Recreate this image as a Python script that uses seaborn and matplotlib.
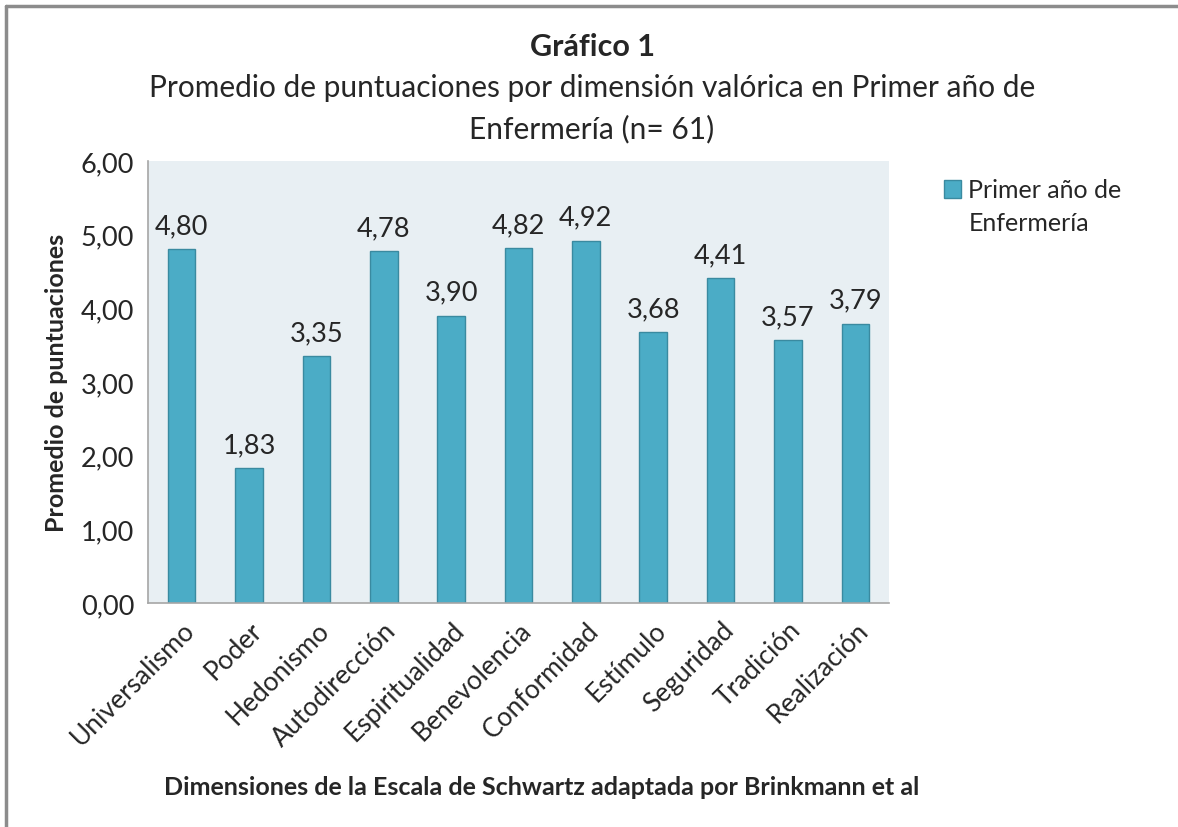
import matplotlib.pyplot as plt
import seaborn as sns
import pandas as pd
from matplotlib.lines import Line2D
from matplotlib.patches import Patch, Rectangle
from matplotlib.legend_handler import HandlerPatch

# Data
dimensiones = ['Universalismo', 'Poder', 'Hedonismo', 'Autodirección', 'Espiritualidad',
               'Benevolencia', 'Conformidad', 'Estímulo', 'Seguridad', 'Tradición', 'Realización']
promedios = [4.80, 1.83, 3.35, 4.78, 3.90, 4.82, 4.92, 3.68, 4.41, 3.57, 3.79]
serie = 'Primer año de\nEnfermería'

df = pd.DataFrame({'dimension': dimensiones, 'promedio': promedios})

sns.set_style("white")
plt.rcParams['font.family'] = ['Lato', 'DejaVu Sans']

bar_color = '#4BACC6'
fig = plt.figure(figsize=(11.78, 8.28), dpi=100)
ax = fig.add_axes([148 / 1178, 1 - 604 / 828, (889 - 148) / 1178, (604 - 162) / 828])

sns.barplot(ax=ax, data=df, x='dimension', y='promedio', color=bar_color,
            width=0.41, edgecolor='#3A8AA0', linewidth=1, saturation=1)

ax.set_facecolor('#E8EFF3')
ax.set_ylim(0, 6)
ax.set_yticks([0, 1, 2, 3, 4, 5, 6])
ax.set_yticklabels([f'{v:.2f}'.replace('.', ',') for v in range(7)], fontsize=19.5, color='#262626')
ax.set_xticks(range(len(dimensiones)))
ax.set_xticklabels(dimensiones, rotation=45, ha='right', rotation_mode='anchor', fontsize=19, color='#262626')
ax.tick_params(axis='y', length=7, width=1, color='#A6A6A6', pad=3)
ax.tick_params(axis='x', length=0, pad=10)

for s in ['top', 'right']:
    ax.spines[s].set_visible(False)
for s in ['left', 'bottom']:
    ax.spines[s].set_color('#A6A6A6')
    ax.spines[s].set_linewidth(1.2)

# value labels
for i, v in enumerate(promedios):
    ax.text(i, v + 0.15, f'{v:.2f}'.replace('.', ','), ha='center', va='bottom', fontsize=19.5, color='#262626')

ax.set_ylabel('Promedio de puntuaciones', fontsize=18, fontweight='bold')
ax.yaxis.set_label_coords(-80 / 741, 0.5)
ax.set_xlabel('Dimensiones de la Escala de Schwartz adaptada por Brinkmann et al',
              fontsize=18, fontweight='bold')
ax.xaxis.set_label_coords((542 - 148) / 741, -(776 - 604) / 442)

# titles
fig.text(592 / 1178, 1 - 47 / 828, 'Gráfico 1', ha='center', va='center', fontsize=22, fontweight='bold')
fig.text(592 / 1178, 1 - 88 / 828, 'Promedio de puntuaciones por dimensión valórica en Primer año de',
         ha='center', va='center', fontsize=21.5)
fig.text(592 / 1178, 1 - 129 / 828, 'Enfermería (n= 61)', ha='center', va='center', fontsize=21.5)


# legend: square lined up with the first text line
def square_top(legend, orig_handle, xdescent, ydescent, width, height, fontsize):
    return Rectangle((-xdescent, -ydescent + 0.72 * fontsize), width, height)


handle = Patch(facecolor=bar_color, edgecolor='#3A8AA0')
leg = fig.legend([handle], [serie], loc='upper left', bbox_to_anchor=(921 / 1178, 1 - 157 / 828),
                 frameon=False, fontsize=18, handlelength=0.7, handleheight=0.7, handletextpad=0.3,
                 handler_map={Patch: HandlerPatch(patch_func=square_top)})
leg.get_texts()[0].set_linespacing(1.5)

# outer frame (left and top edges visible)
fig.add_artist(Line2D([6 / 1178, 6 / 1178], [0, 1 - 7 / 828], color='#8C8C8C', lw=2.5))
fig.add_artist(Line2D([6 / 1178, 1], [1 - 7 / 828, 1 - 7 / 828], color='#8C8C8C', lw=2.5))

fig.savefig('out.png', dpi=100)
